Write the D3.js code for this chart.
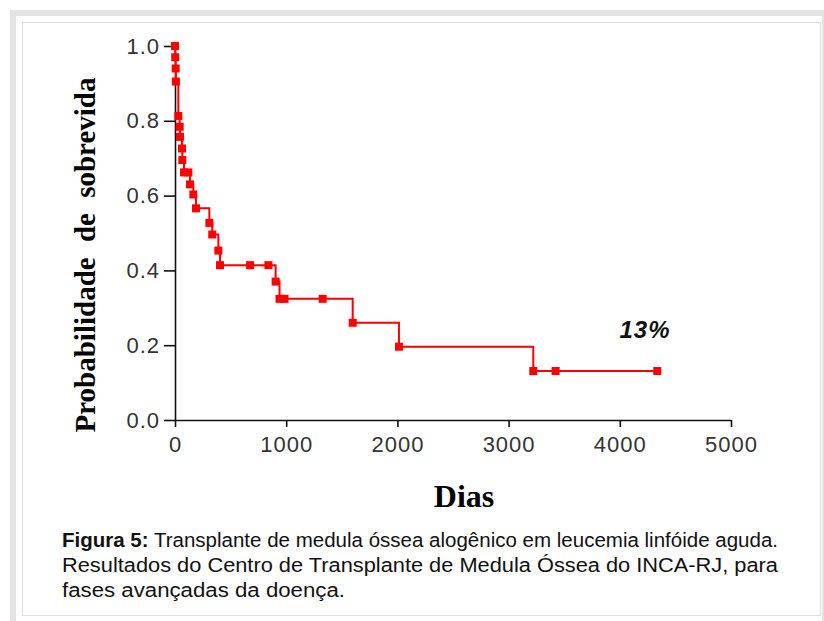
<!DOCTYPE html>
<html>
<head>
<meta charset="utf-8">
<script src="https://cdn.jsdelivr.net/npm/d3@7"></script>
<style>
  body { margin: 0; background: #fff; }
</style>
</head>
<body>
<div class="canvas"></div>
<script>
// Kaplan-Meier curve, days vs survival probability
const days = [0, 2, 6, 8, 30, 42, 45, 63, 66, 81, 120, 135, 165, 189, 309, 335, 390, 405, 675, 840, 905, 940, 985, 1328, 1598, 2014, 3222, 3423, 4337];
const survival = [1.0, 0.97, 0.94, 0.905, 0.813, 0.784, 0.757, 0.726, 0.695, 0.662, 0.662, 0.630, 0.603, 0.566, 0.527, 0.496, 0.453, 0.414, 0.414, 0.414, 0.370, 0.324, 0.324, 0.324, 0.260, 0.196, 0.131, 0.131, 0.131];
const xTicks = [0, 1000, 2000, 3000, 4000, 5000];
const yTicks = [0.0, 0.2, 0.4, 0.6, 0.8, 1.0];
const finalLabel = "13%";
const xTitle = "Dias";
const yTitle = "Probabilidade de sobrevida";
const captionBold = "Figura 5:";
const captionLines = [
  " Transplante de medula óssea alogênico em leucemia linfóide aguda.",
  "Resultados do Centro de Transplante de Medula Óssea do INCA-RJ, para",
  "fases avançadas da doença."
];

const data = days.map((d, i) => ({ day: d, s: survival[i] }));

const width = 824, height = 621;

const svg = d3.select(".canvas").append("svg")
  .attr("width", width)
  .attr("height", height);

// frame
svg.append("rect").attr("x", 10).attr("y", 10).attr("width", 814).attr("height", 611).attr("fill", "#e3e3e3");
svg.append("rect").attr("x", 16).attr("y", 16).attr("width", 806).attr("height", 605).attr("fill", "#fff");
svg.append("rect").attr("x", 22.5).attr("y", 22.5).attr("width", 798).attr("height", 593)
  .attr("fill", "none").attr("stroke", "#dedede").attr("stroke-width", 1);

const x = d3.scaleLinear().domain([0, 5000]).range([175, 731]);
const y = d3.scaleLinear().domain([0, 1]).range([420, 46]);

const xAxis = d3.axisBottom(x).tickValues(xTicks).tickFormat(d3.format("d")).tickSize(7).tickSizeOuter(0).tickPadding(9);
const yAxis = d3.axisLeft(y).tickValues(yTicks).tickFormat(d3.format(".1f")).tickSize(11).tickSizeOuter(0).tickPadding(4);

const xg = svg.append("g").attr("transform", "translate(0,420)").call(xAxis);
const yg = svg.append("g").attr("transform", "translate(175,0)").call(yAxis);

[xg, yg].forEach(g => {
  g.select(".domain").attr("stroke", "#111").attr("stroke-width", 1.6);
  g.selectAll(".tick line").attr("stroke", "#111").attr("stroke-width", 1.6);
  g.selectAll(".tick text")
    .attr("fill", "#333")
    .style("font-family", "'Liberation Sans', Arial, sans-serif")
    .style("font-size", "22px")
    .style("letter-spacing", "1px");
});
xg.selectAll(".tick text").attr("dy", "0.71em");

// survival curve
const line = d3.line().x(d => x(d.day)).y(d => y(d.s)).curve(d3.curveStepAfter);
svg.append("path").datum(data)
  .attr("fill", "none").attr("stroke", "#ff0000").attr("stroke-width", 2)
  .attr("d", line);

svg.selectAll("rect.pt").data(data).enter().append("rect")
  .attr("class", "pt")
  .attr("x", d => x(d.day) - 4)
  .attr("y", d => y(d.s) - 4)
  .attr("width", 8).attr("height", 8)
  .attr("fill", "#ff0000");

// final survival label
svg.append("text")
  .attr("x", 645).attr("y", 338)
  .attr("text-anchor", "middle")
  .style("font-family", "'Liberation Sans', Arial, sans-serif")
  .style("font-size", "24px").style("font-weight", "bold").style("font-style", "italic")
  .style("letter-spacing", "1px")
  .attr("fill", "#111")
  .text(finalLabel);

// axis titles
svg.append("text")
  .attr("x", 464).attr("y", 507)
  .attr("text-anchor", "middle")
  .style("font-family", "'Liberation Serif', 'Times New Roman', serif")
  .style("font-size", "32px").style("font-weight", "bold")
  .attr("fill", "#000")
  .text(xTitle);

svg.append("text")
  .attr("transform", "translate(95,255) rotate(-90)")
  .attr("text-anchor", "middle")
  .style("font-family", "'Liberation Serif', 'Times New Roman', serif")
  .style("font-size", "29px").style("font-weight", "bold")
  .style("word-spacing", "8px")
  .attr("fill", "#000")
  .text(yTitle);

// caption
const cap = svg.append("g")
  .style("font-family", "'Liberation Sans', Arial, sans-serif")
  .style("font-size", "20px")
  .attr("fill", "#111");

const l1 = cap.append("text").attr("x", 62).attr("y", 547)
  .attr("textLength", 716).attr("lengthAdjust", "spacingAndGlyphs");
l1.append("tspan").style("font-weight", "bold").text(captionBold);
l1.append("tspan").text(captionLines[0]);

cap.append("text").attr("x", 62).attr("y", 572)
  .attr("textLength", 716).attr("lengthAdjust", "spacingAndGlyphs")
  .text(captionLines[1]);

cap.append("text").attr("x", 62).attr("y", 597)
  .attr("textLength", 283).attr("lengthAdjust", "spacingAndGlyphs")
  .text(captionLines[2]);
</script>
</body>
</html>
